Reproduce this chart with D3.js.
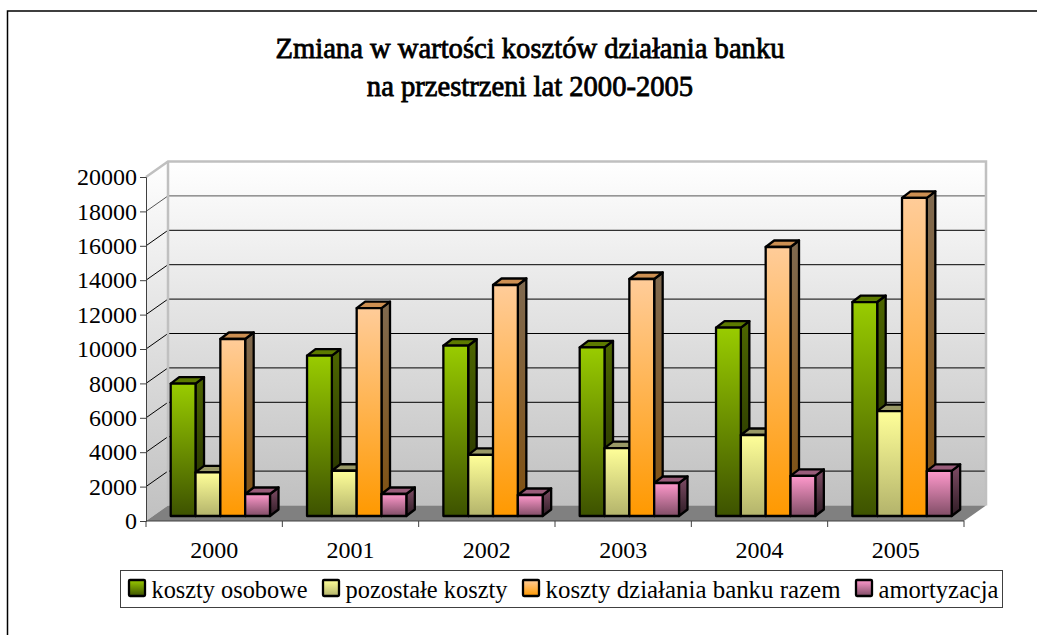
<!DOCTYPE html>
<html><head><meta charset="utf-8">
<script src="https://cdn.jsdelivr.net/npm/d3@7"></script>
<style>html,body{margin:0;padding:0;background:#fff}svg{display:block}text{font-family:"Liberation Serif",serif;fill:#000}</style>
</head><body><script>
const years=["2000","2001","2002","2003","2004","2005"];
const seriesNames=["koszty osobowe","pozostałe koszty","koszty działania banku razem","amortyzacja"];
const kosztyOsobowe=[7700,9320,9900,9800,10950,12440];
const pozostaleKoszty=[2540,2630,3550,3950,4710,6100];
const kosztyRazem=[10290,12090,13430,13780,15640,18500];
const amortyzacja=[1280,1280,1220,1920,2330,2620];
const allValues=[kosztyOsobowe,pozostaleKoszty,kosztyRazem,amortyzacja];
const yTicks=d3.range(0,20001,2000);
const frontFill=[["#99cc00","#3d5200"],["#ffff99","#b3b36b"],["#ffcc99","#ff9900"],["#ff99cc","#804d66"]];
const sideFill=[["#4d6600","#1f2900"],["#808040","#5a5a30"],["#806a50","#80500f"],["#804d66","#2e1c25"]];
const topFill=["#5c7a00","#999966","#cc8f52","#995c7a"];

const W=1037,H=635,dx=22,dy=-15.5;
const svg=d3.select("body").append("svg").attr("width",W).attr("height",H);
const defs=svg.append("defs");
function grad(id,c0,c1){const g=defs.append("linearGradient").attr("id",id).attr("x1",0).attr("y1",0).attr("x2",0).attr("y2",1);
 g.append("stop").attr("offset",0).attr("stop-color",c0);g.append("stop").attr("offset",1).attr("stop-color",c1);}
grad("wall","#ffffff","#c0c0c0");
frontFill.forEach((c,i)=>grad("f"+i,c[0],c[1]));
sideFill.forEach((c,i)=>grad("s"+i,c[0],c[1]));

// outer border
svg.append("path").attr("d",`M7.5,${H}V11H${W}`).attr("fill","none").attr("stroke","#000").attr("stroke-width",1.5);

// title
const title=svg.append("g").attr("text-anchor","middle").attr("font-size",28.6).attr("stroke","#000").attr("stroke-width",0.8);
title.append("text").attr("x",530).attr("y",58).text("Zmiana w wartości kosztów działania banku");
title.append("text").attr("x",530).attr("y",96).text("na przestrzeni lat 2000-2005");

const x=d3.scaleBand().domain(years).range([146,964]);
const y=d3.scaleLinear().domain([0,20000]).range([521,177]);
const xs=d3.scaleBand().domain(d3.range(4)).range([24.7,124]);
const barBase=516;
const h=v=>y(0)-y(v);

// walls
svg.append("path").attr("d",`M${146},${y(0)}L${146+dx},${y(0)+dy}V${y(20000)+dy}L146,${y(20000)}Z`).attr("fill","url(#wall)");
svg.append("rect").attr("x",146+dx).attr("y",y(20000)+dy).attr("width",818).attr("height",y(0)-y(20000)).attr("fill","url(#wall)");
svg.append("path").attr("d",`M146,${y(0)}L${146+dx},${y(0)+dy}H${964+dx}L964,${y(0)}Z`).attr("fill","#808080");
// gridlines
yTicks.filter(t=>t>0&&t<20000).forEach(t=>{
 svg.append("path").attr("d",`M146,${y(t)}L${146+dx},${y(t)+dy}H${964+dx}`).attr("fill","none").attr("stroke",t==18000?"#555":"#000").attr("stroke-width",1);
});
// wall frame
svg.append("path").attr("d",`M146,${y(20000)}L${146+dx},${y(20000)+dy}H${964+dx}V${y(0)+dy}M${146+dx},${y(20000)+dy}V${y(0)+dy}`).attr("fill","none").attr("stroke","#c0c0c0").attr("stroke-width",2.5);

// bars
const ddx=8.5,ddy=-6.5;
years.forEach((yr,j)=>{
 for(let i=0;i<4;i++){
  const v=allValues[i][j],bx=x(yr)+xs(i),bw=xs.bandwidth(),t=barBase-h(v);
  const g=svg.append("g").attr("stroke","#000").attr("stroke-width",2.3).attr("stroke-linejoin","round");
  g.append("path").attr("d",`M${bx+bw},${barBase}l${ddx},${ddy}V${t+ddy}L${bx+bw},${t}Z`).attr("fill",`url(#s${i})`);
  g.append("path").attr("d",`M${bx},${t}l${ddx},${ddy}h${bw}l${-ddx},${-ddy}Z`).attr("fill",topFill[i]);
  g.append("rect").attr("x",bx).attr("y",t).attr("width",bw).attr("height",barBase-t).attr("fill",`url(#f${i})`);
 }
});

// axes
const axY=svg.append("g").attr("transform","translate(146,0)").call(d3.axisLeft(y).tickValues(yTicks).tickSize(6).tickPadding(3).tickFormat(d3.format("d")));
axY.selectAll("text").attr("font-size",24).style("font-family",'"Liberation Serif",serif');
axY.selectAll("line,path").attr("stroke","#404040");
const axX=svg.append("g").attr("transform",`translate(0,${y(0)})`).call(d3.axisBottom(x).tickSize(0).tickPadding(20));
axX.select("path").attr("stroke","#404040").attr("d",`M146,0H964`);
axX.selectAll("text").attr("font-size",24).style("font-family",'"Liberation Serif",serif').attr("dy",0).attr("y",37);
d3.range(7).forEach(k=>axX.append("line").attr("x1",146+k*x.step()).attr("x2",146+k*x.step()).attr("y1",0).attr("y2",6).attr("stroke","#404040"));

// legend
const lg=svg.append("g");
lg.append("rect").attr("x",120.5).attr("y",570.5).attr("width",882).attr("height",37).attr("fill","#fff").attr("stroke","#404040");
const legX=[129,323,523,856];
const legLen=[156,162,295,120];
seriesNames.forEach((n,i)=>{
 lg.append("rect").attr("x",legX[i]).attr("y",580).attr("width",16).attr("height",16).attr("rx",1).attr("fill",`url(#f${i})`).attr("stroke","#000").attr("stroke-width",2.3);
 lg.append("text").attr("x",legX[i]+22.5).attr("y",598).attr("font-size",24.4).attr("textLength",legLen[i]).attr("lengthAdjust","spacingAndGlyphs").text(n);
});
</script></body></html>
